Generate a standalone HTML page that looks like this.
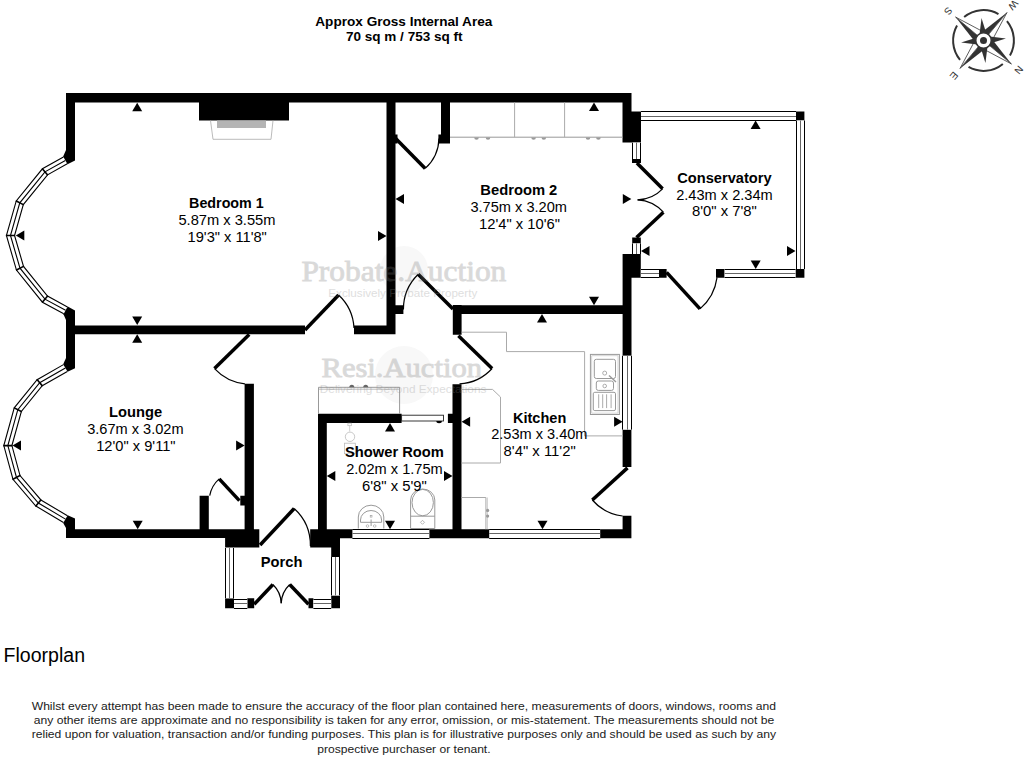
<!DOCTYPE html>
<html><head><meta charset="utf-8"><style>
html,body{margin:0;padding:0;background:#fff;width:1024px;height:760px;overflow:hidden}
svg{position:absolute;left:0;top:0}
</style></head><body>
<svg width="1024" height="760" viewBox="0 0 1024 760">
<rect width="1024" height="760" fill="#fff"/>
<circle cx="404" cy="270" r="24" fill="#f8f8f8"/>
<circle cx="404" cy="375" r="29" fill="#f8f8f8"/>
<path fill="#000" d="M66.00,93.00H631.50V102.50H66.00Z M66.00,93.00H75.00V157.00H66.00Z M66.00,313.00H75.00V366.00H66.00Z M66.00,519.00H75.00V538.10H66.00Z M199.00,93.00H289.00V120.50H199.00Z M386.50,93.00H395.50V334.20H386.50Z M66.00,325.50H305.00V334.20H66.00Z M354.00,325.50H395.50V334.20H354.00Z M441.00,102.00H450.00V143.50H441.00Z M438.40,134.60H450.00V143.50H438.40Z M395.00,134.50H397.50V143.40H395.00Z M622.50,93.00H631.50V142.60H622.50Z M631.50,111.50H641.00V142.60H631.50Z M632.00,159.00H641.00V163.00H632.00Z M632.20,237.60H640.80V243.40H632.20Z M622.60,254.00H640.80V277.70H622.60Z M622.60,254.00H631.50V355.80H622.60Z M395.50,305.20H403.40V314.00H395.50Z M453.00,305.20H631.50V314.00H453.00Z M452.80,305.00H461.60V334.80H452.80Z M452.50,384.30H461.50V538.20H452.50Z M622.60,429.60H631.40V467.00H622.60Z M622.60,515.70H631.40V538.20H622.60Z M244.60,383.80H253.90V538.10H244.60Z M318.00,413.80H326.80V538.20H318.00Z M318.00,413.80H401.60V422.90H318.00Z M447.90,413.80H453.60V422.90H447.90Z M66.00,529.20H259.30V538.10H66.00Z M199.60,495.70H208.80V529.20H199.60Z M240.30,495.70H246.30V505.50H240.30Z M225.10,529.20H259.30V547.50H225.10Z M310.20,529.20H340.00V547.50H310.20Z M331.20,538.00H340.00V557.00H331.20Z M310.40,529.20H631.40V538.20H310.40Z M225.10,598.30H234.00V608.20H225.10Z M247.30,598.30H254.20V608.20H247.30Z M308.50,598.30H313.40V608.20H308.50Z M331.20,595.40H340.00V608.20H331.20Z M796.00,111.50H804.40V120.50H796.00Z M795.50,269.00H804.40V277.70H795.50Z M716.00,269.00H724.60V277.70H716.00Z M659.00,269.00H666.60V277.70H659.00Z"/>
<rect x="641.00" y="111.50" width="155.00" height="9.00" fill="#fff" />
<line x1="641.00" y1="111.50" x2="796.00" y2="111.50" stroke="#000" stroke-width="1" />
<line x1="641.00" y1="116.50" x2="796.00" y2="116.50" stroke="#666" stroke-width="1" />
<line x1="641.00" y1="120.50" x2="796.00" y2="120.50" stroke="#000" stroke-width="1" />
<rect x="796.00" y="120.50" width="8.40" height="148.50" fill="#fff" />
<line x1="796.50" y1="120.50" x2="796.50" y2="269.00" stroke="#000" stroke-width="1" />
<line x1="800.50" y1="120.50" x2="800.50" y2="269.00" stroke="#666" stroke-width="1" />
<line x1="804.50" y1="120.50" x2="804.50" y2="269.00" stroke="#000" stroke-width="1" />
<rect x="724.60" y="269.00" width="70.90" height="8.70" fill="#fff" />
<line x1="724.60" y1="269.50" x2="795.50" y2="269.50" stroke="#000" stroke-width="1" />
<line x1="724.60" y1="273.50" x2="795.50" y2="273.50" stroke="#666" stroke-width="1" />
<line x1="724.60" y1="277.50" x2="795.50" y2="277.50" stroke="#000" stroke-width="1" />
<rect x="640.80" y="269.00" width="18.20" height="8.70" fill="#fff" />
<line x1="640.80" y1="269.50" x2="659.00" y2="269.50" stroke="#000" stroke-width="1" />
<line x1="640.80" y1="273.50" x2="659.00" y2="273.50" stroke="#666" stroke-width="1" />
<line x1="640.80" y1="277.50" x2="659.00" y2="277.50" stroke="#000" stroke-width="1" />
<rect x="632.00" y="142.60" width="9.00" height="16.40" fill="#fff" />
<line x1="632.50" y1="142.60" x2="632.50" y2="159.00" stroke="#000" stroke-width="1" />
<line x1="636.50" y1="142.60" x2="636.50" y2="159.00" stroke="#666" stroke-width="1" />
<line x1="640.50" y1="142.60" x2="640.50" y2="159.00" stroke="#000" stroke-width="1" />
<rect x="632.20" y="243.40" width="8.60" height="10.60" fill="#fff" />
<line x1="632.50" y1="243.40" x2="632.50" y2="254.00" stroke="#000" stroke-width="1" />
<line x1="636.50" y1="243.40" x2="636.50" y2="254.00" stroke="#666" stroke-width="1" />
<line x1="640.50" y1="243.40" x2="640.50" y2="254.00" stroke="#000" stroke-width="1" />
<rect x="622.70" y="355.80" width="8.60" height="73.80" fill="#fff" />
<line x1="622.50" y1="355.80" x2="622.50" y2="429.60" stroke="#000" stroke-width="1" />
<line x1="627.50" y1="355.80" x2="627.50" y2="429.60" stroke="#666" stroke-width="1" />
<line x1="631.50" y1="355.80" x2="631.50" y2="429.60" stroke="#000" stroke-width="1" />
<rect x="352.40" y="529.30" width="77.00" height="8.90" fill="#fff" />
<line x1="352.40" y1="529.50" x2="429.40" y2="529.50" stroke="#000" stroke-width="1" />
<line x1="352.40" y1="533.50" x2="429.40" y2="533.50" stroke="#666" stroke-width="1" />
<line x1="352.40" y1="538.50" x2="429.40" y2="538.50" stroke="#000" stroke-width="1" />
<rect x="489.20" y="529.30" width="111.00" height="8.90" fill="#fff" />
<line x1="489.20" y1="529.50" x2="600.20" y2="529.50" stroke="#000" stroke-width="1" />
<line x1="489.20" y1="533.50" x2="600.20" y2="533.50" stroke="#666" stroke-width="1" />
<line x1="489.20" y1="538.50" x2="600.20" y2="538.50" stroke="#000" stroke-width="1" />
<rect x="225.10" y="548.00" width="8.90" height="50.30" fill="#fff" />
<line x1="225.50" y1="548.00" x2="225.50" y2="598.30" stroke="#000" stroke-width="1" />
<line x1="229.50" y1="548.00" x2="229.50" y2="598.30" stroke="#666" stroke-width="1" />
<line x1="233.50" y1="548.00" x2="233.50" y2="598.30" stroke="#000" stroke-width="1" />
<rect x="234.00" y="599.30" width="13.30" height="8.90" fill="#fff" />
<line x1="234.00" y1="599.50" x2="247.30" y2="599.50" stroke="#000" stroke-width="1" />
<line x1="234.00" y1="603.50" x2="247.30" y2="603.50" stroke="#666" stroke-width="1" />
<line x1="234.00" y1="608.50" x2="247.30" y2="608.50" stroke="#000" stroke-width="1" />
<rect x="313.40" y="599.30" width="17.80" height="8.90" fill="#fff" />
<line x1="313.40" y1="599.50" x2="331.20" y2="599.50" stroke="#000" stroke-width="1" />
<line x1="313.40" y1="603.50" x2="331.20" y2="603.50" stroke="#666" stroke-width="1" />
<line x1="313.40" y1="608.50" x2="331.20" y2="608.50" stroke="#000" stroke-width="1" />
<rect x="331.20" y="557.00" width="8.80" height="38.40" fill="#fff" />
<line x1="331.50" y1="557.00" x2="331.50" y2="595.40" stroke="#000" stroke-width="1" />
<line x1="335.50" y1="557.00" x2="335.50" y2="595.40" stroke="#666" stroke-width="1" />
<line x1="339.50" y1="557.00" x2="339.50" y2="595.40" stroke="#000" stroke-width="1" />
<polygon points="63.20,156.60 42.10,168.40 15.80,200.70 5.90,235.50 16.00,270.30 42.10,302.60 63.50,314.20 67.69,306.46 47.84,295.70 23.96,266.15 15.06,235.48 23.77,204.85 47.86,175.26 67.50,164.28" fill="#fff" />
<polyline points="63.44,157.04 42.43,168.79 16.25,200.94 6.42,235.50 16.45,270.06 42.43,302.21 63.74,313.76" fill="none" stroke="#000" stroke-width="1.1"/>
<polyline points="65.35,160.44 44.98,171.83 19.78,202.78 10.48,235.49 19.98,268.22 44.97,299.15 65.60,310.33" fill="none" stroke="#000" stroke-width="1.1"/>
<polyline points="67.25,163.84 47.54,174.87 23.32,204.62 14.54,235.48 23.51,266.38 47.51,296.09 67.46,306.90" fill="none" stroke="#000" stroke-width="1.1"/>
<line x1="42.10" y1="168.40" x2="47.86" y2="175.26" stroke="#000" stroke-width="1.6" />
<line x1="15.80" y1="200.70" x2="23.77" y2="204.85" stroke="#000" stroke-width="1.6" />
<line x1="5.90" y1="235.50" x2="15.06" y2="235.48" stroke="#000" stroke-width="1.6" />
<line x1="16.00" y1="270.30" x2="23.96" y2="266.15" stroke="#000" stroke-width="1.6" />
<line x1="42.10" y1="302.60" x2="47.84" y2="295.70" stroke="#000" stroke-width="1.6" />
<polygon points="63.20,364.20 36.80,379.30 13.80,407.60 3.30,445.60 12.50,479.50 35.50,506.40 63.20,522.90 67.70,515.34 41.25,499.58 20.47,475.29 12.42,445.62 21.79,411.72 42.59,386.12 67.57,371.84" fill="#fff" />
<polyline points="63.45,364.63 37.13,379.69 14.25,407.83 3.82,445.60 12.95,479.26 35.83,506.01 63.46,522.47" fill="none" stroke="#000" stroke-width="1.1"/>
<polyline points="65.38,368.02 39.70,382.71 17.80,409.66 7.86,445.61 16.49,477.39 38.37,502.99 65.45,519.12" fill="none" stroke="#000" stroke-width="1.1"/>
<polyline points="67.32,371.40 42.26,385.74 21.34,411.49 11.91,445.62 20.02,475.52 40.92,499.97 67.45,515.77" fill="none" stroke="#000" stroke-width="1.1"/>
<line x1="36.80" y1="379.30" x2="42.59" y2="386.12" stroke="#000" stroke-width="1.6" />
<line x1="13.80" y1="407.60" x2="21.79" y2="411.72" stroke="#000" stroke-width="1.6" />
<line x1="3.30" y1="445.60" x2="12.42" y2="445.62" stroke="#000" stroke-width="1.6" />
<line x1="12.50" y1="479.50" x2="20.47" y2="475.29" stroke="#000" stroke-width="1.6" />
<line x1="35.50" y1="506.40" x2="41.25" y2="499.58" stroke="#000" stroke-width="1.6" />
<polygon points="66.00,150.00 75.00,150.00 75.00,160.50 67.50,164.28 63.20,156.60" fill="#000" />
<polygon points="66.00,320.00 75.00,320.00 75.00,310.50 67.69,306.46 63.50,314.20" fill="#000" />
<polygon points="66.00,358.00 75.00,358.00 75.00,368.30 67.57,371.84 63.20,364.20" fill="#000" />
<polygon points="66.00,528.00 75.00,528.00 75.00,518.60 67.70,515.34 63.20,522.90" fill="#000" />
<line x1="305.00" y1="330.00" x2="338.60" y2="295.00" stroke="#000" stroke-width="3.5" stroke-linecap="butt"/>
<path d="M338.60,295.00 A48.52,48.52 0 0 1 354.00,328.00" fill="none" stroke="#000" stroke-width="1.2"/>
<line x1="453.00" y1="309.00" x2="418.20" y2="274.30" stroke="#000" stroke-width="3.5" stroke-linecap="butt"/>
<path d="M418.20,274.30 A49.14,49.14 0 0 0 403.40,309.50" fill="none" stroke="#000" stroke-width="1.2"/>
<line x1="395.70" y1="138.40" x2="425.20" y2="168.40" stroke="#000" stroke-width="3.5" stroke-linecap="butt"/>
<path d="M425.20,168.40 A42.07,42.07 0 0 0 439.00,138.40" fill="none" stroke="#000" stroke-width="1.2"/>
<line x1="636.90" y1="163.00" x2="662.60" y2="188.80" stroke="#000" stroke-width="3.5" stroke-linecap="butt"/>
<path d="M662.60,188.80 A36.42,36.42 0 0 1 637.60,199.80" fill="none" stroke="#000" stroke-width="1.2"/>
<line x1="636.50" y1="237.60" x2="663.40" y2="212.20" stroke="#000" stroke-width="3.5" stroke-linecap="butt"/>
<path d="M663.40,212.20 A37.00,37.00 0 0 0 637.60,199.80" fill="none" stroke="#000" stroke-width="1.2"/>
<line x1="666.60" y1="272.40" x2="700.00" y2="308.90" stroke="#000" stroke-width="3.5" stroke-linecap="butt"/>
<path d="M700.00,308.90 A49.48,49.48 0 0 0 717.00,277.70" fill="none" stroke="#000" stroke-width="1.2"/>
<line x1="249.20" y1="334.60" x2="214.50" y2="368.60" stroke="#000" stroke-width="3.5" stroke-linecap="butt"/>
<path d="M214.50,368.60 A48.58,48.58 0 0 0 244.90,383.80" fill="none" stroke="#000" stroke-width="1.2"/>
<line x1="458.40" y1="335.80" x2="492.10" y2="368.50" stroke="#000" stroke-width="3.5" stroke-linecap="butt"/>
<path d="M492.10,368.50 A46.96,46.96 0 0 1 459.50,383.80" fill="none" stroke="#000" stroke-width="1.2"/>
<line x1="627.50" y1="467.90" x2="592.30" y2="500.00" stroke="#000" stroke-width="3.5" stroke-linecap="butt"/>
<path d="M592.30,500.00 A47.64,47.64 0 0 0 622.60,516.00" fill="none" stroke="#000" stroke-width="1.2"/>
<line x1="239.40" y1="500.60" x2="219.20" y2="478.90" stroke="#000" stroke-width="3.5" stroke-linecap="butt"/>
<path d="M219.20,478.90 A29.65,29.65 0 0 0 209.70,495.70" fill="none" stroke="#000" stroke-width="1.2"/>
<line x1="260.10" y1="545.00" x2="294.20" y2="508.50" stroke="#000" stroke-width="3.5" stroke-linecap="butt"/>
<path d="M294.20,508.50 A49.95,49.95 0 0 1 310.40,546.00" fill="none" stroke="#000" stroke-width="1.2"/>
<line x1="254.20" y1="604.30" x2="272.90" y2="584.50" stroke="#000" stroke-width="3.5" stroke-linecap="butt"/>
<path d="M272.90,584.50 A27.23,27.23 0 0 1 281.20,603.30" fill="none" stroke="#000" stroke-width="1.2"/>
<line x1="308.50" y1="604.30" x2="289.70" y2="584.50" stroke="#000" stroke-width="3.5" stroke-linecap="butt"/>
<path d="M289.70,584.50 A27.30,27.30 0 0 0 281.20,603.30" fill="none" stroke="#000" stroke-width="1.2"/>
<rect x="217.00" y="120.50" width="49.00" height="7.50" fill="#b4b4b4" />
<polyline points="210.50,120.50 213.00,139.30 271.00,139.30 273.00,120.50" fill="none" stroke="#aaa" stroke-width="0.8"/>
<line x1="450.00" y1="137.20" x2="622.50" y2="137.20" stroke="#999" stroke-width="1" />
<line x1="514.60" y1="102.50" x2="514.60" y2="137.20" stroke="#aaa" stroke-width="1" />
<line x1="564.60" y1="102.50" x2="564.60" y2="137.20" stroke="#aaa" stroke-width="1" />
<path d="M474.20,137.5 A2.3,2.3 0 0 0 478.80,137.5 Z" fill="#999"/>
<path d="M485.70,137.5 A2.3,2.3 0 0 0 490.30,137.5 Z" fill="#999"/>
<path d="M531.30,137.5 A2.3,2.3 0 0 0 535.90,137.5 Z" fill="#999"/>
<path d="M541.50,137.5 A2.3,2.3 0 0 0 546.10,137.5 Z" fill="#999"/>
<path d="M585.70,137.5 A2.3,2.3 0 0 0 590.30,137.5 Z" fill="#999"/>
<path d="M596.10,137.5 A2.3,2.3 0 0 0 600.70,137.5 Z" fill="#999"/>
<polyline points="318.50,413.80 318.50,387.30 399.60,387.30 399.60,413.80" fill="none" stroke="#999" stroke-width="1"/>
<line x1="318.50" y1="389.20" x2="399.60" y2="389.20" stroke="#aaa" stroke-width="0.8" />
<path d="M349.30,387.3 A2.5,2.5 0 0 1 354.30,387.3 Z" fill="#666"/>
<path d="M363.20,387.3 A2.5,2.5 0 0 1 368.20,387.3 Z" fill="#666"/>
<polyline points="461.60,332.20 506.50,332.20 506.50,351.60 584.60,351.60 584.60,435.90 622.60,435.90" fill="none" stroke="#aaa" stroke-width="1"/>
<polyline points="461.60,389.40 492.50,389.40 500.50,397.00 500.50,463.00 461.60,463.00" fill="none" stroke="#aaa" stroke-width="1"/>
<polyline points="461.60,497.50 485.90,497.50 485.90,529.20" fill="none" stroke="#aaa" stroke-width="1"/>
<line x1="487.30" y1="497.50" x2="487.30" y2="529.20" stroke="#bbb" stroke-width="0.8" />
<circle cx="487.6" cy="510.4" r="1.6" fill="#999"/><circle cx="487.6" cy="516.1" r="1.6" fill="#999"/>
<rect x="590.4" y="354.4" width="29" height="60.1" fill="none" stroke="#999" stroke-width="1"/>
<rect x="591.8" y="355.8" width="26.2" height="57.3" fill="none" stroke="#bbb" stroke-width="0.6"/>
<rect x="594.3" y="359.3" width="21.2" height="19.2" rx="2" fill="none" stroke="#999" stroke-width="1"/>
<circle cx="604.7" cy="373.1" r="2" fill="none" stroke="#999" stroke-width="0.8"/>
<line x1="609.00" y1="375.60" x2="616.00" y2="382.00" stroke="#999" stroke-width="1.4" />
<rect x="596.3" y="381" width="17.2" height="9.4" rx="2" fill="none" stroke="#999" stroke-width="1"/>
<circle cx="604.7" cy="386" r="1.8" fill="none" stroke="#999" stroke-width="0.8"/>
<rect x="593.3" y="392.3" width="22.2" height="18.3" rx="1.5" fill="none" stroke="#999" stroke-width="1"/>
<line x1="598.70" y1="394.30" x2="598.70" y2="408.10" stroke="#aaa" stroke-width="1" />
<line x1="602.70" y1="394.30" x2="602.70" y2="408.10" stroke="#aaa" stroke-width="1" />
<line x1="606.60" y1="394.30" x2="606.60" y2="408.10" stroke="#aaa" stroke-width="1" />
<line x1="611.10" y1="394.30" x2="611.10" y2="408.10" stroke="#aaa" stroke-width="1" />
<path d="M358.3,528.5 L358.3,517 A12.75,11.8 0 0 1 383.8,517 L383.8,528.5" fill="none" stroke="#999" stroke-width="1"/>
<path d="M360.5,522.3 L360.5,520 A10.55,9.5 0 0 1 381.6,520 L381.6,522.3 Z" fill="none" stroke="#999" stroke-width="1"/>
<rect x="370.2" y="515.3" width="1.8" height="1.8" fill="none" stroke="#999" stroke-width="0.6"/>
<line x1="371.10" y1="519.50" x2="371.10" y2="526.00" stroke="#999" stroke-width="1" />
<circle cx="367.5" cy="526" r="1.3" fill="none" stroke="#999" stroke-width="0.6"/><circle cx="374.7" cy="526" r="1.3" fill="none" stroke="#999" stroke-width="0.6"/>
<path d="M410.6,528.5 L410.6,500 A12.1,11 0 0 1 434.8,500 L434.8,528.5 Z" fill="none" stroke="#999" stroke-width="1"/>
<ellipse cx="422.7" cy="502.6" rx="10.7" ry="13.2" fill="none" stroke="#999" stroke-width="1"/>
<line x1="410.60" y1="516.20" x2="434.80" y2="516.20" stroke="#999" stroke-width="1" />
<polygon points="422.5,520.3 424.5,522.3 422.5,524.3 420.5,522.3" fill="none" stroke="#999" stroke-width="0.7"/>
<rect x="347.9" y="423.2" width="3.7" height="2.5" fill="none" stroke="#bbb" stroke-width="0.7"/>
<line x1="349.70" y1="425.70" x2="349.70" y2="431.50" stroke="#bbb" stroke-width="0.7" />
<circle cx="350" cy="436.8" r="4.7" fill="none" stroke="#bbb" stroke-width="0.8"/>
<rect x="344.5" y="443.2" width="10.8" height="10.5" fill="none" stroke="#bbb" stroke-width="0.8"/>
<rect x="401.60" y="415.20" width="41.90" height="5.80" fill="#fff" stroke="#222" stroke-width="0.9"/>
<path d="M436.3,421 A2.8,2.2 0 0 0 441.9,421 Z" fill="#000"/>
<polygon points="137.20,102.70 132.20,111.20 142.20,111.20" fill="#000" />
<polygon points="137.20,325.00 132.20,316.50 142.20,316.50" fill="#000" />
<polygon points="137.20,334.20 132.20,342.70 142.20,342.70" fill="#000" />
<polygon points="15.80,235.50 24.30,230.50 24.30,240.50" fill="#000" />
<polygon points="386.50,236.00 378.00,231.00 378.00,241.00" fill="#000" />
<polygon points="395.50,199.00 404.00,194.00 404.00,204.00" fill="#000" />
<polygon points="631.30,199.00 622.80,194.00 622.80,204.00" fill="#000" />
<polygon points="594.00,102.50 589.00,111.00 599.00,111.00" fill="#000" />
<polygon points="594.00,305.20 589.00,296.70 599.00,296.70" fill="#000" />
<polygon points="542.00,314.00 537.00,322.50 547.00,322.50" fill="#000" />
<polygon points="542.50,529.30 537.50,520.80 547.50,520.80" fill="#000" />
<polygon points="461.60,421.80 470.10,416.80 470.10,426.80" fill="#000" />
<polygon points="622.60,421.80 614.10,416.80 614.10,426.80" fill="#000" />
<polygon points="755.60,120.50 750.60,129.00 760.60,129.00" fill="#000" />
<polygon points="755.70,269.00 750.70,260.50 760.70,260.50" fill="#000" />
<polygon points="641.00,250.90 649.50,245.90 649.50,255.90" fill="#000" />
<polygon points="795.50,251.00 787.00,246.00 787.00,256.00" fill="#000" />
<polygon points="12.50,445.60 21.00,440.60 21.00,450.60" fill="#000" />
<polygon points="244.60,445.60 236.10,440.60 236.10,450.60" fill="#000" />
<polygon points="137.70,529.20 132.70,520.70 142.70,520.70" fill="#000" />
<polygon points="390.00,422.90 385.00,431.40 395.00,431.40" fill="#000" />
<polygon points="326.80,476.00 335.30,471.00 335.30,481.00" fill="#000" />
<polygon points="452.50,476.00 444.00,471.00 444.00,481.00" fill="#000" />
<polygon points="390.00,529.30 385.00,520.80 395.00,520.80" fill="#000" />
<text x="189.10" y="208.10" font-family="Liberation Sans" font-size="14" font-weight="bold" fill="#000" textLength="74.60" lengthAdjust="spacingAndGlyphs">Bedroom 1</text>
<text x="178.40" y="224.80" font-family="Liberation Sans" font-size="14" font-weight="normal" fill="#000" textLength="97.10" lengthAdjust="spacingAndGlyphs">5.87m x 3.55m</text>
<text x="187.60" y="241.70" font-family="Liberation Sans" font-size="14" font-weight="normal" fill="#000" textLength="79.20" lengthAdjust="spacingAndGlyphs">19'3&quot; x 11'8&quot;</text>
<text x="480.30" y="194.90" font-family="Liberation Sans" font-size="14" font-weight="bold" fill="#000" textLength="77.00" lengthAdjust="spacingAndGlyphs">Bedroom 2</text>
<text x="470.40" y="211.50" font-family="Liberation Sans" font-size="14" font-weight="normal" fill="#000" textLength="96.60" lengthAdjust="spacingAndGlyphs">3.75m x 3.20m</text>
<text x="479.00" y="228.50" font-family="Liberation Sans" font-size="14" font-weight="normal" fill="#000" textLength="81.00" lengthAdjust="spacingAndGlyphs">12'4&quot; x 10'6&quot;</text>
<text x="677.30" y="182.60" font-family="Liberation Sans" font-size="14" font-weight="bold" fill="#000" textLength="94.30" lengthAdjust="spacingAndGlyphs">Conservatory</text>
<text x="676.20" y="199.60" font-family="Liberation Sans" font-size="14" font-weight="normal" fill="#000" textLength="96.50" lengthAdjust="spacingAndGlyphs">2.43m x 2.34m</text>
<text x="692.00" y="216.00" font-family="Liberation Sans" font-size="14" font-weight="normal" fill="#000" textLength="64.90" lengthAdjust="spacingAndGlyphs">8'0&quot; x 7'8&quot;</text>
<text x="109.10" y="417.20" font-family="Liberation Sans" font-size="14" font-weight="bold" fill="#000" textLength="53.00" lengthAdjust="spacingAndGlyphs">Lounge</text>
<text x="87.20" y="433.80" font-family="Liberation Sans" font-size="14" font-weight="normal" fill="#000" textLength="96.40" lengthAdjust="spacingAndGlyphs">3.67m x 3.02m</text>
<text x="96.20" y="450.50" font-family="Liberation Sans" font-size="14" font-weight="normal" fill="#000" textLength="79.40" lengthAdjust="spacingAndGlyphs">12'0&quot; x 9'11&quot;</text>
<text x="345.00" y="457.30" font-family="Liberation Sans" font-size="14" font-weight="bold" fill="#000" textLength="98.90" lengthAdjust="spacingAndGlyphs">Shower Room</text>
<text x="346.20" y="474.00" font-family="Liberation Sans" font-size="14" font-weight="normal" fill="#000" textLength="96.50" lengthAdjust="spacingAndGlyphs">2.02m x 1.75m</text>
<text x="362.00" y="490.60" font-family="Liberation Sans" font-size="14" font-weight="normal" fill="#000" textLength="64.90" lengthAdjust="spacingAndGlyphs">6'8&quot; x 5'9&quot;</text>
<text x="513.00" y="422.70" font-family="Liberation Sans" font-size="14" font-weight="bold" fill="#000" textLength="53.30" lengthAdjust="spacingAndGlyphs">Kitchen</text>
<text x="491.20" y="439.20" font-family="Liberation Sans" font-size="14" font-weight="normal" fill="#000" textLength="96.30" lengthAdjust="spacingAndGlyphs">2.53m x 3.40m</text>
<text x="503.60" y="456.00" font-family="Liberation Sans" font-size="14" font-weight="normal" fill="#000" textLength="72.10" lengthAdjust="spacingAndGlyphs">8'4&quot; x 11'2&quot;</text>
<text x="260.80" y="566.90" font-family="Liberation Sans" font-size="14" font-weight="bold" fill="#000" textLength="41.60" lengthAdjust="spacingAndGlyphs">Porch</text>
<text x="315.30" y="26.40" font-family="Liberation Sans" font-size="13" font-weight="bold" fill="#000" textLength="177.00" lengthAdjust="spacingAndGlyphs">Approx Gross Internal Area</text>
<text x="346.00" y="41.20" font-family="Liberation Sans" font-size="13" font-weight="bold" fill="#000" textLength="116.50" lengthAdjust="spacingAndGlyphs">70 sq m / 753 sq ft</text>
<text x="3.60" y="661.70" font-family="Liberation Sans" font-size="19.5" font-weight="normal" fill="#000" textLength="81.40" lengthAdjust="spacingAndGlyphs">Floorplan</text>
<text x="31.70" y="709.60" font-family="Liberation Sans" font-size="11.5" font-weight="normal" fill="#1a1a1a" textLength="744.40" lengthAdjust="spacingAndGlyphs">Whilst every attempt has been made to ensure the accuracy of the floor plan contained here, measurements of doors, windows, rooms and</text>
<text x="33.80" y="723.70" font-family="Liberation Sans" font-size="11.5" font-weight="normal" fill="#1a1a1a" textLength="740.50" lengthAdjust="spacingAndGlyphs">any other items are approximate and no responsibility is taken for any error, omission, or mis-statement. The measurements should not be</text>
<text x="31.70" y="738.40" font-family="Liberation Sans" font-size="11.5" font-weight="normal" fill="#1a1a1a" textLength="744.40" lengthAdjust="spacingAndGlyphs">relied upon for valuation, transaction and/or funding purposes. This plan is for illustrative purposes only and should be used as such by any</text>
<text x="317.20" y="753.00" font-family="Liberation Sans" font-size="11.5" font-weight="normal" fill="#1a1a1a" textLength="173.40" lengthAdjust="spacingAndGlyphs">prospective purchaser or tenant.</text>
<g opacity="0.27">
<g stroke="#777" stroke-width="0.9">
<text x="301.40" y="280.60" font-family="Liberation Serif" font-size="30" font-weight="normal" fill="#777" textLength="204.90" lengthAdjust="spacingAndGlyphs">Probate.Auction</text>
<text x="321.50" y="376.70" font-family="Liberation Serif" font-size="28" font-weight="normal" fill="#777" textLength="160.50" lengthAdjust="spacingAndGlyphs">Resi.Auction</text>
</g>
<text x="328.30" y="297.30" font-family="Liberation Sans" font-size="11.5" font-weight="normal" fill="#888" textLength="149.00" lengthAdjust="spacingAndGlyphs">Exclusively Probate Property</text>
<text x="319.80" y="393.30" font-family="Liberation Sans" font-size="11.5" font-weight="normal" fill="#888" textLength="166.60" lengthAdjust="spacingAndGlyphs">Delivering Beyond Expectations</text>
</g>
<path d="M964.16,17.04 A30.4,30.4 0 0 1 998.47,14.04" fill="none" stroke="#333" stroke-width="2"/>
<path d="M1006.96,21.16 A30.4,30.4 0 0 1 1009.96,55.47" fill="none" stroke="#333" stroke-width="2"/>
<path d="M1002.84,63.96 A30.4,30.4 0 0 1 968.53,66.96" fill="none" stroke="#333" stroke-width="2"/>
<path d="M960.04,59.84 A30.4,30.4 0 0 1 957.04,25.53" fill="none" stroke="#333" stroke-width="2"/>
<polygon points="983.50,40.50 974.53,41.28 955.54,17.04" fill="#333" />
<polygon points="983.50,40.50 982.72,31.53 955.54,17.04" fill="#fff" stroke="#333" stroke-width="0.8"/>
<polygon points="983.50,40.50 982.72,31.53 1006.96,12.54" fill="#333" />
<polygon points="983.50,40.50 992.47,39.72 1006.96,12.54" fill="#fff" stroke="#333" stroke-width="0.8"/>
<polygon points="983.50,40.50 992.47,39.72 1011.46,63.96" fill="#333" />
<polygon points="983.50,40.50 984.28,49.47 1011.46,63.96" fill="#fff" stroke="#333" stroke-width="0.8"/>
<polygon points="983.50,40.50 984.28,49.47 960.04,68.46" fill="#333" />
<polygon points="983.50,40.50 974.53,41.28 960.04,68.46" fill="#fff" stroke="#333" stroke-width="0.8"/>
<polygon points="983.50,40.50 979.26,36.26 981.54,18.09 986.94,35.59" fill="#333" />
<polygon points="983.50,40.50 987.74,36.26 1005.91,38.54 988.41,43.94" fill="#333" />
<polygon points="983.50,40.50 987.74,44.74 985.46,62.91 980.06,45.41" fill="#333" />
<polygon points="983.50,40.50 979.26,44.74 961.09,42.46 978.59,37.06" fill="#333" />
<circle cx="983.5" cy="40.5" r="7.8" fill="#fff" stroke="#333" stroke-width="1.6"/>
<circle cx="983.5" cy="40.5" r="3.5" fill="#333"/>
<text x="1018.74" y="70.07" font-family="Liberation Sans" font-size="10" fill="#333" text-anchor="middle" dominant-baseline="central" transform="rotate(130 1018.74 70.07)">N</text>
<text x="953.93" y="75.74" font-family="Liberation Sans" font-size="10" fill="#333" text-anchor="middle" dominant-baseline="central" transform="rotate(130 953.93 75.74)">E</text>
<text x="948.26" y="10.93" font-family="Liberation Sans" font-size="10" fill="#333" text-anchor="middle" dominant-baseline="central" transform="rotate(130 948.26 10.93)">S</text>
<text x="1013.07" y="5.26" font-family="Liberation Sans" font-size="10" fill="#333" text-anchor="middle" dominant-baseline="central" transform="rotate(130 1013.07 5.26)">W</text>
</svg>
</body></html>
